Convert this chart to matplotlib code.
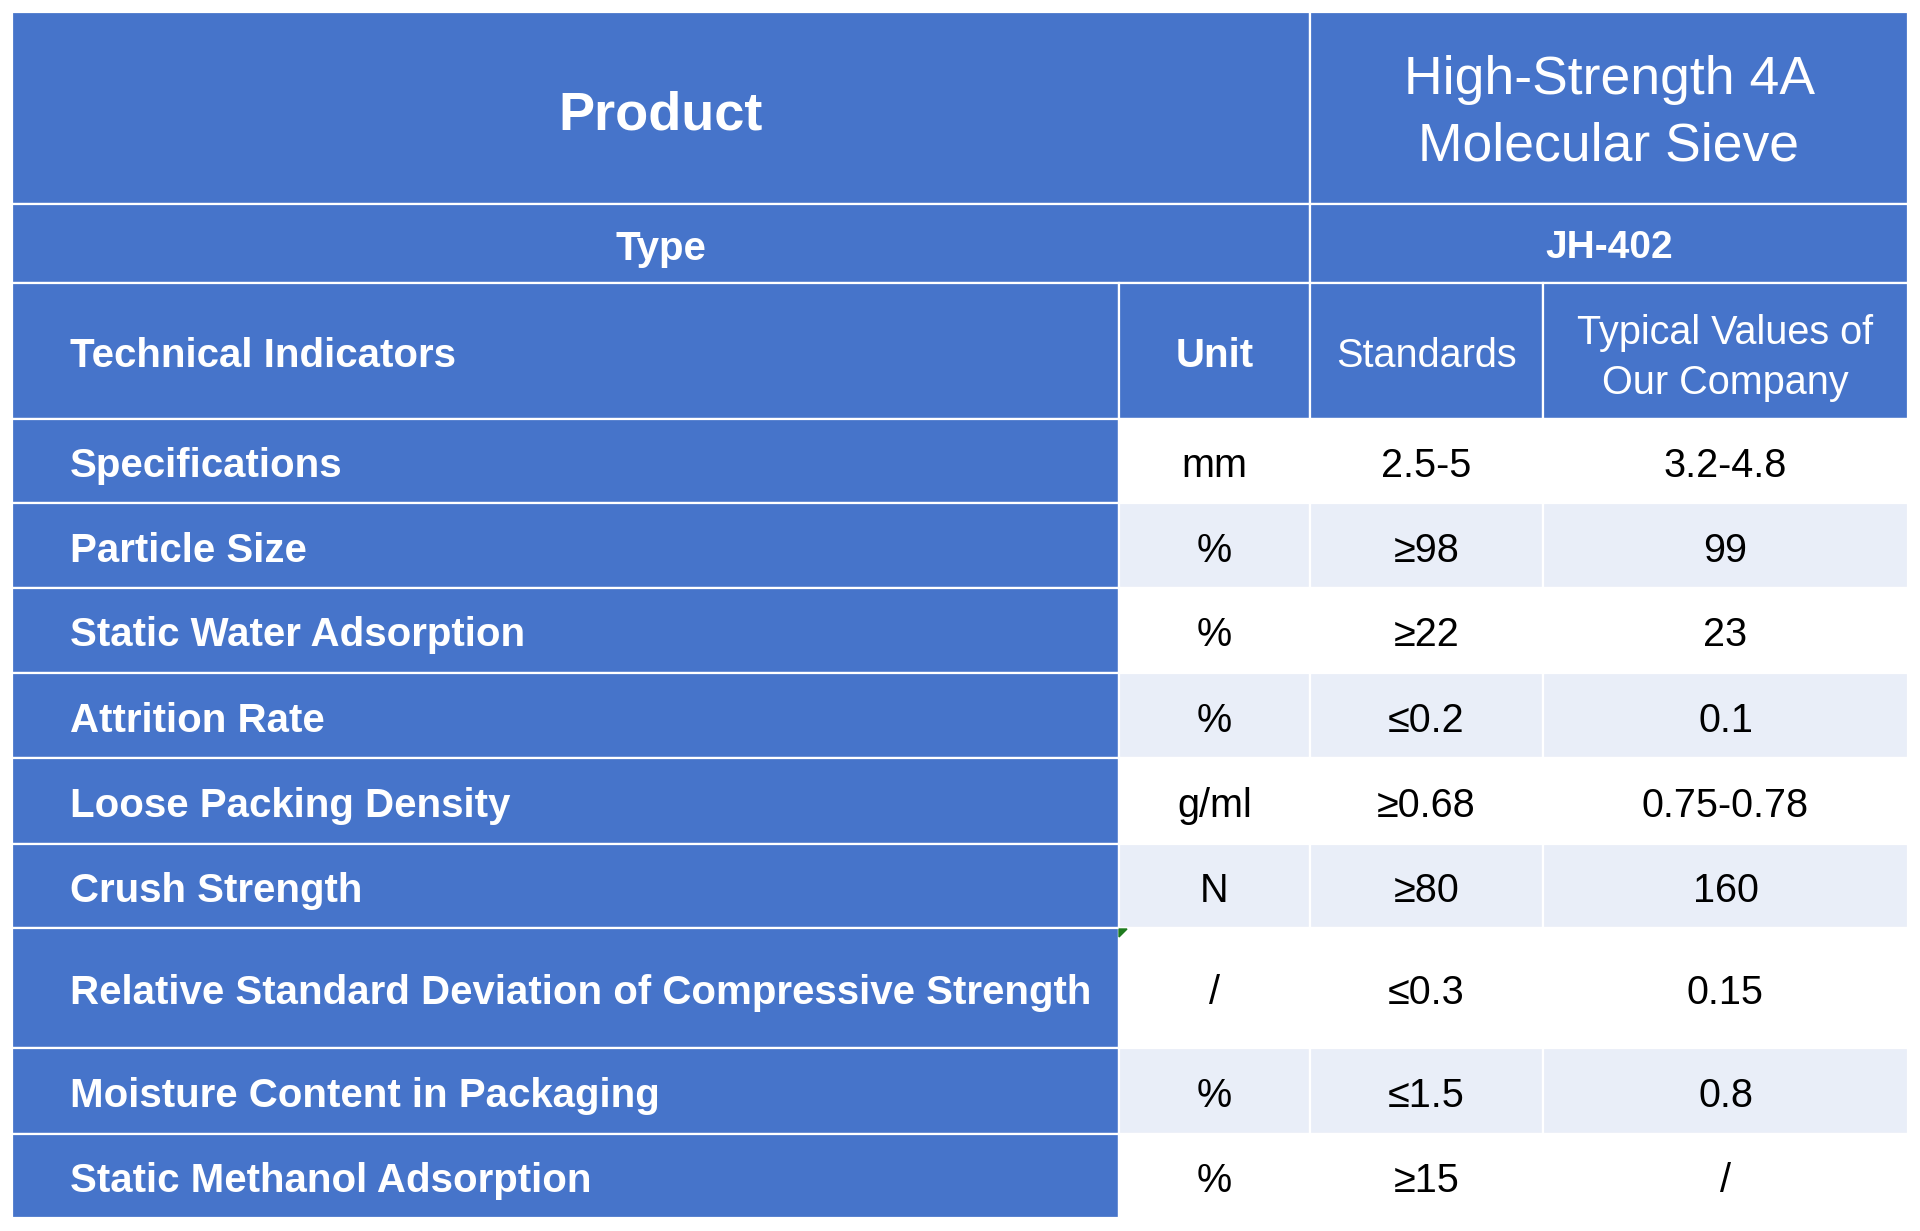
import matplotlib.pyplot as plt
from matplotlib.patches import Rectangle, Polygon

# table content
product_label = "Product"
product_name = "High-Strength 4A\nMolecular Sieve"
type_label = "Type"
type_value = "JH-402"
col_headers = ["Technical Indicators", "Unit", "Standards", "Typical Values of\nOur Company"]

indicators = [
    "Specifications",
    "Particle Size",
    "Static Water Adsorption",
    "Attrition Rate",
    "Loose Packing Density",
    "Crush Strength",
    "Relative Standard Deviation of Compressive Strength",
    "Moisture Content in Packaging",
    "Static Methanol Adsorption",
]
units = ["mm", "%", "%", "%", "g/ml", "N", "/", "%", "%"]
standards = ["2.5-5", "≥98", "≥22", "≤0.2", "≥0.68", "≥80", "≤0.3", "≤1.5", "≥15"]
typical = ["3.2-4.8", "99", "23", "0.1", "0.75-0.78", "160", "0.15", "0.8", "/"]

# layout (pixels)
BLUE = "#4674CA"
LIGHT = "#E9EEF8"
col_x = [12, 1119, 1310, 1543, 1908]
head_y = [12, 204, 283, 419]
row_y = [419, 503, 588, 673, 758, 844, 928, 1048, 1134, 1218]
FONT = "Liberation Sans"
DY = 5  # nudge text down a little, matplotlib centres on the full bbox

fig = plt.figure(figsize=(19.2, 12.31), dpi=100)
ax = fig.add_axes([0, 0, 1, 1])
ax.set_xlim(0, 1920)
ax.set_ylim(1231, 0)
ax.axis("off")


def cell(x0, x1, y0, y1, color):
    ax.add_patch(Rectangle((x0, y0), x1 - x0, y1 - y0, facecolor=color,
                           edgecolor="white", linewidth=1.6))


def txt(x, y, s, size=28.5, weight="normal", color="white", ha="center", ls=1.15):
    ax.text(x, y + DY, s, fontsize=size, fontweight=weight, color=color, ha=ha,
            va="center", family=FONT, linespacing=ls)


# header rows
cell(col_x[0], col_x[2], head_y[0], head_y[1], BLUE)
cell(col_x[2], col_x[4], head_y[0], head_y[1], BLUE)
txt((col_x[0] + col_x[2]) / 2, (head_y[0] + head_y[1]) / 2 + 2, product_label, size=39, weight="bold")
txt((col_x[2] + col_x[4]) / 2, (head_y[0] + head_y[1]) / 2, product_name, size=38.5, ls=1.42)

cell(col_x[0], col_x[2], head_y[1], head_y[2], BLUE)
cell(col_x[2], col_x[4], head_y[1], head_y[2], BLUE)
txt((col_x[0] + col_x[2]) / 2, (head_y[1] + head_y[2]) / 2, type_label, size=29, weight="bold")
txt((col_x[2] + col_x[4]) / 2, (head_y[1] + head_y[2]) / 2, type_value, size=28, weight="bold")

for j in range(4):
    cell(col_x[j], col_x[j + 1], head_y[2], head_y[3], BLUE)
ym = (head_y[2] + head_y[3]) / 2
txt(70, ym, col_headers[0], size=29, weight="bold", ha="left")
txt((col_x[1] + col_x[2]) / 2, ym, col_headers[1], size=29, weight="bold")
txt((col_x[2] + col_x[3]) / 2, ym, col_headers[2])
txt((col_x[3] + col_x[4]) / 2, ym + 2, col_headers[3], ls=1.38)

# data rows
for i, name in enumerate(indicators):
    y0, y1 = row_y[i], row_y[i + 1]
    fill = "white" if i % 2 == 0 else LIGHT
    cell(col_x[0], col_x[1], y0, y1, BLUE)
    for j in range(1, 4):
        cell(col_x[j], col_x[j + 1], y0, y1, fill)
    yc = (y0 + y1) / 2
    txt(70, yc, name, size=29, weight="bold", ha="left")
    txt((col_x[1] + col_x[2]) / 2, yc, units[i], color="black")
    txt((col_x[2] + col_x[3]) / 2, yc, standards[i], color="black")
    txt((col_x[3] + col_x[4]) / 2, yc, typical[i], color="black")

# small comment marker like in the spreadsheet
ax.add_patch(Polygon([[col_x[1], row_y[6] + 1], [col_x[1] + 8, row_y[6] + 1],
                      [col_x[1], row_y[6] + 9]], closed=True, color="#1E7B1E"))

fig.savefig("out.png", dpi=100, facecolor="white")
